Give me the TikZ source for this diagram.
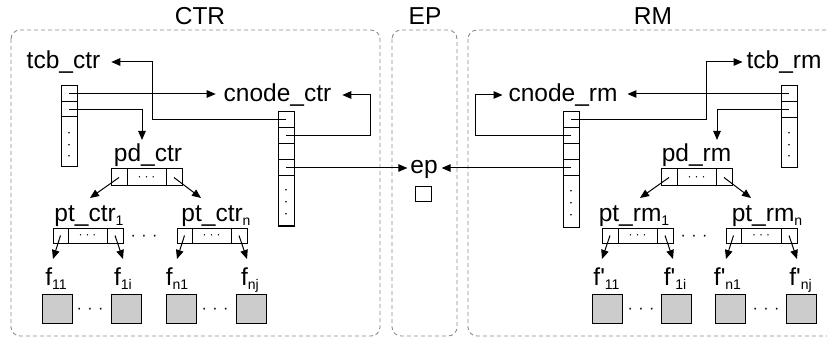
\documentclass[tikz,border=0pt]{standalone}
\usepackage{fontspec}
\newfontfamily\hv{Liberation Sans}
\usetikzlibrary{arrows.meta}
\newcommand\subx[1]{\raisebox{-4pt}{\fontsize{14}{14}\selectfont #1}}
\newcommand\dotsx[2]{{\fontsize{#1}{#1}\selectfont ·\hspace{#2}·\hspace{#2}·}}
\begin{document}
\begin{tikzpicture}[x=1pt,y=-1pt,
  every node/.style={inner sep=0pt,outer sep=0pt},
  lbl/.style={anchor=base,font=\hv\fontsize{24.5}{28}\selectfont},
  cell/.style={draw,line width=1pt},
  vdots/.style={rotate=90,font=\hv},
  hdots/.style={anchor=base,font=\hv},
  box/.style={draw=black!45,dash pattern=on 4pt off 3pt,line width=0.9pt,rounded corners=9pt},
  arr/.style={-{Triangle[length=9pt,width=7.5pt]},line width=1pt},
  page/.style={draw,fill=black!20,line width=1pt,minimum width=30pt,minimum height=29pt}]
\useasboundingbox (0,0) rectangle (827,339);
% containers
\draw[box] (11,30) rectangle (380,336);
\draw[box] (392,30) rectangle (457,336);
\draw[box] (468,30) rectangle (845,336);
\node[lbl] (tCTR) at (200,25) {CTR};
\node[lbl] (tEP) at (425,25) {EP};
\node[lbl] (tRM) at (653,25) {RM};
% ---------- CTR ----------
\node[lbl] (tcbctr) at (63.5,69) {tcb\_ctr};
\node[lbl] (cnodectr) at (277.5,102) {cnode\_ctr};
\node[lbl] (pdctr) at (148,162) {pd\_ctr};
\node[lbl] (ptc1) at (89,222) {pt\_ctr\subx{1}};
\node[lbl] (ptcn) at (216,222) {pt\_ctr\subx{n}};
\node[lbl] (f11) at (56,285) {f\subx{11}};
\node[lbl] (f1i) at (123,285) {f\subx{1i}};
\node[lbl] (fn1) at (177,285) {f\subx{n1}};
\node[lbl] (fnj) at (250,285) {f\subx{nj}};
% tcb_ctr table
\node[cell,minimum width=16pt,minimum height=16pt] (tc1) at (69,94) {};
\node[cell,minimum width=16pt,minimum height=15pt] (tc2) at (69,109.5) {};
\node[cell,minimum width=16pt,minimum height=50pt] (tc3) at (69,142) {};
\node[vdots] at (70.5,145) {\dotsx{14}{7pt}};
% cnode_ctr table
\node[cell,minimum width=16pt,minimum height=16pt] (c1) at (286,120) {};
\node[cell,minimum width=16pt,minimum height=16pt] (c2) at (286,136) {};
\node[cell,minimum width=16pt,minimum height=16pt] (c3) at (286,152) {};
\node[cell,minimum width=16pt,minimum height=16pt] (c4) at (286,168) {};
\node[cell,minimum width=16pt,minimum height=50pt] (c5) at (286,201) {};
\node[vdots] at (287.5,202.5) {\dotsx{14}{7.5pt}};
% pd_ctr table
\node[cell,minimum width=16pt,minimum height=17pt] (pc1) at (119,177.5) {};
\node[cell,minimum width=39pt,minimum height=17pt] (pc2) at (146.5,177.5) {};
\node[cell,minimum width=16pt,minimum height=17pt] (pc3) at (174,177.5) {};
\node[hdots] at (146.5,181) {\dotsx{12}{3pt}};
% pt_ctr tables
\node[cell,minimum width=15pt,minimum height=15pt] (a1) at (60.5,235.5) {};
\node[cell,minimum width=39pt,minimum height=15pt] (a2) at (87.5,235.5) {};
\node[cell,minimum width=16pt,minimum height=15pt] (a3) at (115,235.5) {};
\node[hdots] at (87.5,239) {\dotsx{12}{3pt}};
\node[cell,minimum width=15pt,minimum height=15pt] (b1) at (184.5,235.5) {};
\node[cell,minimum width=39pt,minimum height=15pt] (b2) at (211.5,235.5) {};
\node[cell,minimum width=16pt,minimum height=15pt] (b3) at (239,235.5) {};
\node[hdots] at (211.5,239) {\dotsx{12}{3pt}};
\node[hdots] at (144,240.5) {\dotsx{16}{5.5pt}};
% pages
\node[page] (g1) at (57.5,308.5) {};
\node[page] (g2) at (126.5,308.5) {};
\node[page] (g3) at (181.5,308.5) {};
\node[page] (g4) at (251,308.5) {};
\node[hdots] at (90,313.5) {\dotsx{16}{5.5pt}};
\node[hdots] at (215,313.5) {\dotsx{16}{5.5pt}};
% ---------- EP ----------
\node[lbl] (ep) at (424,174) {ep};
\node[draw,line width=1pt,minimum width=16pt,minimum height=15pt] (epbox) at (423,194.5) {};
% ---------- RM ----------
\node[lbl] (tcbrm) at (784,69) {tcb\_rm};
\node[lbl] (cnoderm) at (563,102) {cnode\_rm};
\node[lbl] (pdrm) at (696.5,162) {pd\_rm};
\node[lbl] (ptr1) at (634,222) {pt\_rm\subx{1}};
\node[lbl] (ptrn) at (767,222) {pt\_rm\subx{n}};
\node[lbl] (g11) at (606.5,285) {f'\subx{11}};
\node[lbl] (g1i) at (675,285) {f'\subx{1i}};
\node[lbl] (gn1) at (727.5,285) {f'\subx{n1}};
\node[lbl] (gnj) at (800.5,285) {f'\subx{nj}};
% tcb_rm table
\node[cell,minimum width=16pt,minimum height=16pt] (r1) at (789,94) {};
\node[cell,minimum width=16pt,minimum height=16pt] (r2) at (789,110) {};
\node[cell,minimum width=16pt,minimum height=50pt] (r3) at (789,143) {};
\node[vdots] at (790.5,145) {\dotsx{14}{7pt}};
% cnode_rm table
\node[cell,minimum width=16pt,minimum height=16pt] (m1) at (571,120) {};
\node[cell,minimum width=16pt,minimum height=16pt] (m2) at (571,136) {};
\node[cell,minimum width=16pt,minimum height=16pt] (m3) at (571,152) {};
\node[cell,minimum width=16pt,minimum height=16pt] (m4) at (571,168) {};
\node[cell,minimum width=16pt,minimum height=51pt] (m5) at (571,201.5) {};
\node[vdots] at (572.5,203) {\dotsx{14}{7.5pt}};
% pd_rm table
\node[cell,minimum width=16pt,minimum height=17pt] (pr1) at (669,177.5) {};
\node[cell,minimum width=39pt,minimum height=17pt] (pr2) at (696.5,177.5) {};
\node[cell,minimum width=16pt,minimum height=17pt] (pr3) at (724,177.5) {};
\node[hdots] at (696.5,181) {\dotsx{12}{3pt}};
% pt_rm tables
\node[cell,minimum width=16pt,minimum height=15pt] (d1) at (610,235.5) {};
\node[cell,minimum width=39pt,minimum height=15pt] (d2) at (637.5,235.5) {};
\node[cell,minimum width=16pt,minimum height=15pt] (d3) at (665,235.5) {};
\node[hdots] at (637.5,239) {\dotsx{12}{3pt}};
\node[cell,minimum width=15pt,minimum height=15pt] (e1) at (733.5,235.5) {};
\node[cell,minimum width=40pt,minimum height=15pt] (e2) at (761,235.5) {};
\node[cell,minimum width=16pt,minimum height=15pt] (e3) at (789,235.5) {};
\node[hdots] at (761,239) {\dotsx{12}{3pt}};
\node[hdots] at (694,240.5) {\dotsx{16}{5.5pt}};
% pages
\node[page] (h1) at (607.5,308.5) {};
\node[page] (h2) at (676.5,308.5) {};
\node[page] (h3) at (730.5,308.5) {};
\node[page] (h4) at (801,308.5) {};
\node[hdots] at (641,313.5) {\dotsx{16}{5.5pt}};
\node[hdots] at (766,313.5) {\dotsx{16}{5.5pt}};
% ---------- connectors CTR ----------
\draw[arr] (tc1.center) -- ([xshift=-8pt]cnodectr.west |- tc1.center);
\draw[arr] (tc2.center) -| ([xshift=-6pt,yshift=22pt]pdctr.base);
\draw[arr] (c1.center) -| (152,62) -- ([xshift=11pt]tcbctr.east |- 152,62);
\draw[arr] (c2.center) -| (370,95) -- ([xshift=11pt]cnodectr.east |- 370,95);
\draw[arr] (c4.center) -- ([xshift=-3pt]ep.west |- c4.center);
\draw[arr] (pc1.center) -- ([xshift=1pt,yshift=24pt]ptc1.base);
\draw[arr] (pc3.center) -- ([xshift=-15pt,yshift=24pt]ptcn.base);
\draw[arr] (a1.center) -- ([xshift=-3pt,yshift=26pt]f11.base);
\draw[arr] (a3.center) -- ([yshift=26pt]f1i.base);
\draw[arr] (b1.center) -- ([yshift=26pt]fn1.base);
\draw[arr] (b3.center) -- ([xshift=-3pt,yshift=26pt]fnj.base);
% ---------- connectors RM ----------
\draw[arr] (r1.center) -- ([xshift=10pt]cnoderm.east |- r1.center);
\draw[arr] (r2.center) -| ([xshift=20.5pt,yshift=22pt]pdrm.base);
\draw[arr] (m1.center) -| (706,62) -- ([xshift=-4pt]tcbrm.west |- 706,62);
\draw[arr] (m2.center) -| (475,95) -- ([xshift=-6pt]cnoderm.west |- 475,95);
\draw[arr] (m4.center) -- ([xshift=4pt]ep.east |- m4.center);
\draw[arr] (pr1.center) -- ([xshift=6pt,yshift=24pt]ptr1.base);
\draw[arr] (pr3.center) -- ([xshift=-16pt,yshift=24pt]ptrn.base);
\draw[arr] (d1.center) -- ([xshift=-4.5pt,yshift=26pt]g11.base);
\draw[arr] (d3.center) -- ([xshift=-2pt,yshift=26pt]g1i.base);
\draw[arr] (e1.center) -- ([xshift=-1.5pt,yshift=26pt]gn1.base);
\draw[arr] (e3.center) -- ([xshift=-3.5pt,yshift=26pt]gnj.base);
\end{tikzpicture}
\end{document}
